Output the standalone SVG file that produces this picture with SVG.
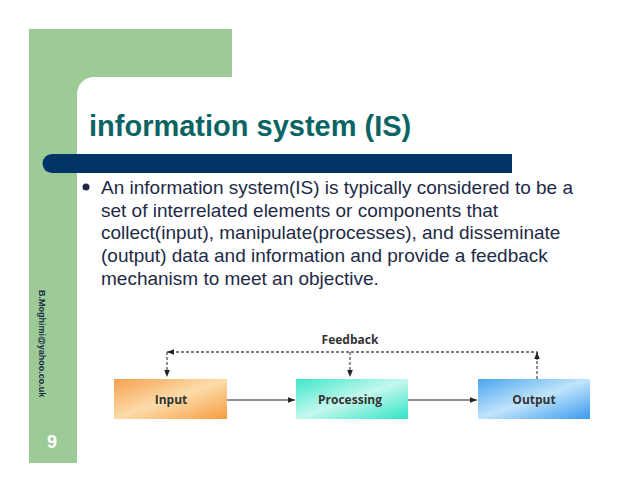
<svg xmlns="http://www.w3.org/2000/svg" width="638" height="493" viewBox="0 0 638 493">
<defs>
<style>
.body{font-family:"Liberation Sans",Arial,sans-serif;font-size:19px;fill:#1e2a46}
.lbl{font-family:"Open Sans","Liberation Sans",sans-serif;font-weight:bold;font-size:12px;fill:#333;text-anchor:middle}
.dash{stroke:#555;stroke-width:1.3;stroke-dasharray:3 2;fill:none}
.solid{stroke:#222;stroke-width:1.2;fill:none}
</style>
<marker id="ah" viewBox="0 0 10 10" refX="10" refY="5" markerWidth="7" markerHeight="7" orient="auto" markerUnits="userSpaceOnUse"><path d="M0,1 L10,5 L0,9 z" fill="#222"/></marker>
<linearGradient id="gIn" x1="0" y1="0" x2="1" y2="1"><stop offset="0" stop-color="#f5a04f"/><stop offset="0.5" stop-color="#fcdcaa"/><stop offset="1" stop-color="#f69c40"/></linearGradient>
<linearGradient id="gPr" x1="0" y1="0" x2="1" y2="1"><stop offset="0" stop-color="#3ee6ca"/><stop offset="0.5" stop-color="#c4f8ec"/><stop offset="1" stop-color="#2ee4c6"/></linearGradient>
<linearGradient id="gOut" x1="0" y1="0" x2="1" y2="1"><stop offset="0" stop-color="#4aa6ee"/><stop offset="0.5" stop-color="#c0e4fb"/><stop offset="1" stop-color="#3a9aee"/></linearGradient>
</defs>
<rect width="638" height="493" fill="#ffffff"/>
<g id="frame">
<path d="M29,29 H232 V77 H94 A17,17 0 0 0 77,94 V463 H29 Z" fill="#9ccb98"/>
<path d="M52,154 H512 V173 H52 A9.5,9.5 0 0 1 52,154 Z" fill="#003366"/>
</g>
<text x="89" y="136" font-family="Liberation Sans,Arial,sans-serif" font-weight="bold" font-size="29" fill="#0b6464">information system (IS)</text>
<circle cx="86" cy="187" r="3.5" fill="#1e2a46"/>
<text class="body"><tspan x="101" y="194">An information system(IS) is typically considered to be a</tspan><tspan x="101" y="217">set of interrelated elements or components that</tspan><tspan x="101" y="239">collect(input), manipulate(processes), and disseminate</tspan><tspan x="101" y="262">(output) data and information and provide a feedback</tspan><tspan x="101" y="285">mechanism to meet an objective.</tspan></text>
<text transform="translate(39,290) rotate(90)" font-family="Liberation Sans,Arial,sans-serif" font-weight="bold" font-size="9" fill="#1e2a46">B.Moghimi@yahoo.co.uk</text>
<text x="52" y="448" text-anchor="middle" font-family="Liberation Sans,Arial,sans-serif" font-weight="bold" font-size="18" fill="#ffffff">9</text>
<g id="connectors">
<path class="dash" d="M537,379 V352 H167" marker-end="url(#ah)"/>
<path class="dash" d="M537,360 V352" marker-end="url(#ah)"/>
<path class="dash" d="M167,352 V377" marker-end="url(#ah)"/>
<path class="dash" d="M350,352 V377" marker-end="url(#ah)"/>
<path class="solid" d="M227,400 H295" marker-end="url(#ah)"/>
<path class="solid" d="M408,400 H477" marker-end="url(#ah)"/>
</g>
<text class="lbl" x="350" y="344">Feedback</text>
<g id="input"><rect x="114" y="379" width="113" height="40" fill="url(#gIn)"/><text class="lbl" x="171" y="404">Input</text></g>
<g id="processing"><rect x="296" y="379" width="112" height="40" fill="url(#gPr)"/><text class="lbl" x="350" y="404">Processing</text></g>
<g id="output"><rect x="478" y="379" width="112" height="40" fill="url(#gOut)"/><text class="lbl" x="534" y="404">Output</text></g>
</svg>
